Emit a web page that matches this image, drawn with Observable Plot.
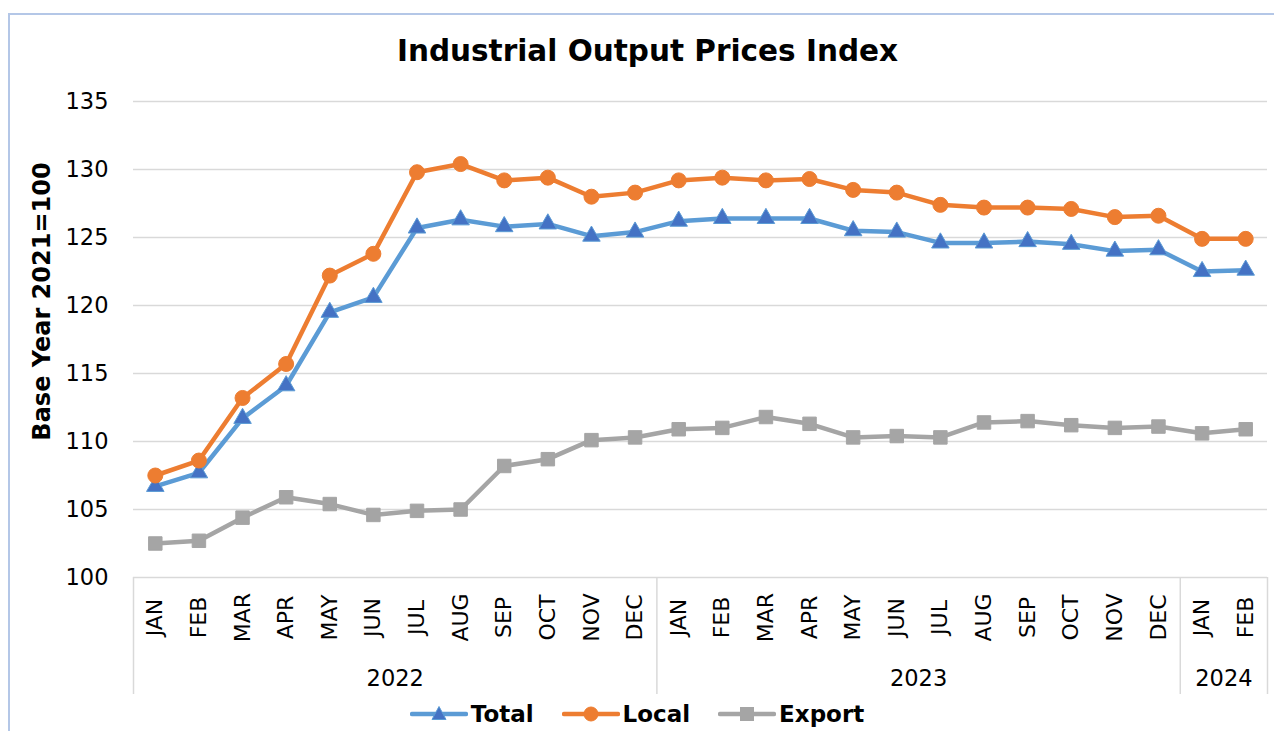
<!DOCTYPE html>
<html>
<head>
<meta charset="utf-8">
<script src="https://cdn.jsdelivr.net/npm/d3@7"></script>
<script src="https://cdn.jsdelivr.net/npm/@observablehq/plot@0.6"></script>
<style>
  html, body { margin: 0; padding: 0; background: #ffffff; }
  #wrap { position: relative; width: 1274px; height: 731px; overflow: hidden; font-family: "DejaVu Sans", Verdana, sans-serif; }
  #frame { position: absolute; left: 8px; top: 13px; right: -4px; bottom: -4px; border-left: 2px solid #b4c7e7; border-top: 2px solid #b4c7e7; pointer-events: none; }
  #title { position: absolute; left: 0; top: 0; width: 1274px; height: 80px; box-sizing: border-box; padding-top: 37px; padding-left: 21px; text-align: center; font-weight: bold; font-size: 29.5px; line-height: 29.5px; color: #000; }
  #chart { position: absolute; left: 0; top: 80px; width: 1274px; height: 620px; }
  #legend { position: absolute; left: 0; top: 700px; width: 1274px; height: 28px; display: flex; justify-content: center; align-items: center; padding-left: 0px; box-sizing: border-box; }
  .item { display: flex; align-items: center; margin: 0 14px; font-weight: bold; font-size: 23px; color: #000; }
  .item svg { margin-right: 3px; }
</style>
</head>
<body>
<div id="wrap">
  <div id="frame"></div>
  <div id="title">Industrial Output Prices Index</div>
  <div id="chart"></div>
  <div id="legend"></div>
</div>
<script>
// ---- Data ----
const months = ["JAN","FEB","MAR","APR","MAY","JUN","JUL","AUG","SEP","OCT","NOV","DEC",
                "JAN","FEB","MAR","APR","MAY","JUN","JUL","AUG","SEP","OCT","NOV","DEC",
                "JAN","FEB"];
const years = ["2022", "2023", "2024"];
const yearMonthCounts = [12, 12, 2];
const total = [106.7, 107.7, 111.7, 114.1, 119.5, 120.6, 125.7, 126.3, 125.8, 126.0, 125.1, 125.4,
               126.2, 126.4, 126.4, 126.4, 125.5, 125.4, 124.6, 124.6, 124.7, 124.5, 124.0, 124.1,
               122.5, 122.6];
const local = [107.5, 108.6, 113.2, 115.7, 122.2, 123.8, 129.8, 130.4, 129.2, 129.4, 128.0, 128.3,
               129.2, 129.4, 129.2, 129.3, 128.5, 128.3, 127.4, 127.2, 127.2, 127.1, 126.5, 126.6,
               124.9, 124.9];
const exportVals = [102.5, 102.7, 104.4, 105.9, 105.4, 104.6, 104.9, 105.0, 108.2, 108.7, 110.1, 110.3,
                    110.9, 111.0, 111.8, 111.3, 110.3, 110.4, 110.3, 111.4, 111.5, 111.2, 111.0, 111.1,
                    110.6, 110.9];
const yTicks = [100, 105, 110, 115, 120, 125, 130, 135];
const seriesNames = ["Total", "Local", "Export"];
const seriesColors = {Total: "#5b9bd5", Local: "#ed7d31", Export: "#a5a5a5"};
const markerFill = {Total: "#4472c4", Local: "#ed7d31", Export: "#a5a5a5"};

// ---- Derived tables ----
const rows = months.map((m, i) => ({i, month: m, Total: total[i], Local: local[i], Export: exportVals[i]}));
const long = rows.flatMap(r => seriesNames.map(s => ({i: r.i, series: s, value: r[s]})));
let start = 0;
const yearGroups = years.map((y, k) => {
  const g = {year: y, start: start - 0.5, end: start + yearMonthCounts[k] - 0.5};
  start += yearMonthCounts[k];
  return g;
});
const separators = [yearGroups[0].start, ...yearGroups.map(g => g.end)];

const plot = Plot.plot({
  width: 1274,
  height: 620,
  marginLeft: 133,
  marginRight: 7,
  marginTop: 21,
  marginBottom: 123,
  x: {domain: [-0.5, months.length - 0.5], axis: null},
  y: {domain: [100, 135], axis: null},
  style: {fontFamily: "DejaVu Sans, Verdana, sans-serif", background: "transparent", overflow: "visible", color: "#000"},
  marks: [
    Plot.ruleY(yTicks, {stroke: "#d9d9d9", strokeWidth: 1.5}),
    Plot.text(yTicks, {y: d => d, text: d => String(d), frameAnchor: "left", textAnchor: "end", dx: -25, fontSize: 22.5, fill: "#000"}),
    Plot.text(["Base Year 2021=100"], {frameAnchor: "left", textAnchor: "middle", text: d => d, rotate: -90, dx: -91, dy: -38, fontSize: 24, fontWeight: "bold", fill: "#000"}),
    Plot.ruleX(separators, {x: d => d, stroke: "#d9d9d9", strokeWidth: 1.5, insetTop: 476, insetBottom: -117}),
    Plot.text(rows, {x: "i", y: () => 100, text: "month", rotate: -90, dy: 40, fontSize: 22, fill: "#000"}),
    Plot.text(yearGroups, {x: d => (d.start + d.end) / 2, y: () => 100, text: "year", dy: 101, fontSize: 22.5, fill: "#000"}),
    Plot.line(long, {x: "i", y: "value", z: "series", stroke: d => seriesColors[d.series], strokeWidth: 4.5, strokeLinejoin: "round", strokeLinecap: "round"}),
    Plot.dot(long.filter(d => d.series === "Total"), {x: "i", y: "value", symbol: "triangle", r: 6.5, fill: markerFill.Total, stroke: seriesColors.Total, strokeWidth: 1}),
    Plot.dot(long.filter(d => d.series === "Local"), {x: "i", y: "value", symbol: "circle", r: 7.5, fill: markerFill.Local, stroke: seriesColors.Local, strokeWidth: 1}),
    Plot.dot(long.filter(d => d.series === "Export"), {x: "i", y: "value", symbol: "square", r: 7.6, fill: markerFill.Export, stroke: seriesColors.Export, strokeWidth: 1})
  ]
});
document.getElementById("chart").appendChild(plot);

// ---- Legend ----
const legend = document.getElementById("legend");
const ns = "http://www.w3.org/2000/svg";
seriesNames.forEach(s => {
  const item = document.createElement("div");
  item.className = "item";
  const svg = document.createElementNS(ns, "svg");
  svg.setAttribute("width", "58");
  svg.setAttribute("height", "20");
  const line = document.createElementNS(ns, "line");
  line.setAttribute("x1", "2"); line.setAttribute("x2", "56");
  line.setAttribute("y1", "10"); line.setAttribute("y2", "10");
  line.setAttribute("stroke", seriesColors[s]); line.setAttribute("stroke-width", "4.5");
  line.setAttribute("stroke-linecap", "round");
  svg.appendChild(line);
  let m;
  if (s === "Total") {
    m = document.createElementNS(ns, "path");
    m.setAttribute("d", "M29,2.5 L36,15.5 L22,15.5 Z");
  } else if (s === "Local") {
    m = document.createElementNS(ns, "circle");
    m.setAttribute("cx", "29"); m.setAttribute("cy", "10"); m.setAttribute("r", "7");
  } else {
    m = document.createElementNS(ns, "rect");
    m.setAttribute("x", "22.5"); m.setAttribute("y", "3.5"); m.setAttribute("width", "13"); m.setAttribute("height", "13");
  }
  m.setAttribute("fill", markerFill[s]);
  m.setAttribute("stroke", seriesColors[s]);
  svg.appendChild(m);
  const label = document.createElement("span");
  label.textContent = s;
  item.appendChild(svg);
  item.appendChild(label);
  legend.appendChild(item);
});
</script>
</body>
</html>
